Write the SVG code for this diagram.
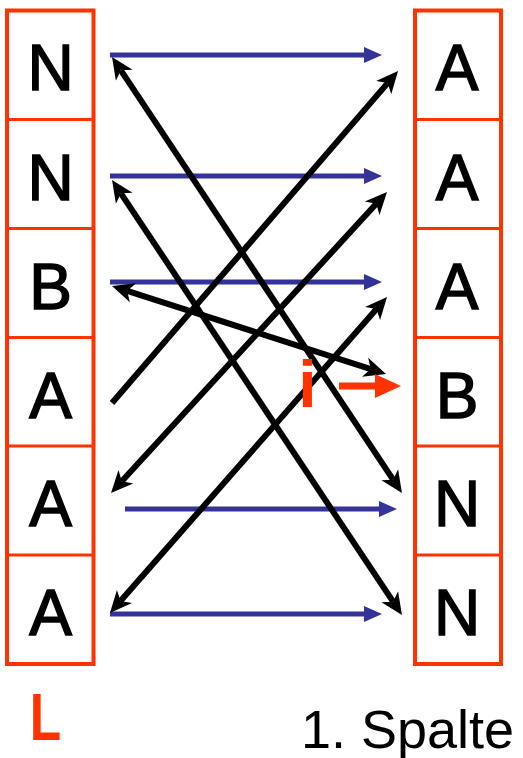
<svg xmlns="http://www.w3.org/2000/svg" width="523" height="758" viewBox="0 0 523 758">
<style>
.col{fill:#fff;stroke:#FF3300;stroke-width:4}
.div{stroke:#FF3300;stroke-width:2.8}
.cell{font-family:"Liberation Sans",Arial,sans-serif;font-size:64px;fill:#000;stroke:#000;stroke-width:1.5;text-anchor:middle}
.blue{stroke:#333399;stroke-width:5;fill:none;marker-end:url(#bh)}
.blk{stroke:#000;stroke-width:6;fill:none}
.two{marker-start:url(#kh);marker-end:url(#kh)}
.one{marker-end:url(#kh)}
.red{font-family:"Liberation Sans",Arial,sans-serif;font-weight:bold;fill:#FF3300;text-anchor:middle}
</style>
<defs>
<marker id="bh" markerUnits="userSpaceOnUse" markerWidth="20" markerHeight="20" viewBox="0 -10 20 20" refX="0" refY="0" orient="auto"><path d="M0,-8 L18,0 L0,8 z" fill="#333399"/></marker>
<marker id="kh" markerUnits="userSpaceOnUse" markerWidth="26" markerHeight="26" viewBox="0 -13 26 26" refX="6" refY="0" orient="auto-start-reverse"><path d="M0,-10 L22,0 L0,10 L6,0 z" fill="#000"/></marker>
</defs>
<g id="L-column">
<rect class="col" x="7" y="10.5" width="86.5" height="653.5"/>
<line class="div" x1="7" y1="119.5" x2="93.5" y2="119.5"/>
<line class="div" x1="7" y1="228.5" x2="93.5" y2="228.5"/>
<line class="div" x1="7" y1="337.5" x2="93.5" y2="337.5"/>
<line class="div" x1="7" y1="446" x2="93.5" y2="446"/>
<line class="div" x1="7" y1="555" x2="93.5" y2="555"/>
</g>
<g id="L1"><text class="cell" x="50.5" y="90">N</text></g>
<g id="L2"><text class="cell" x="50.5" y="199.5">N</text></g>
<g id="L3"><text class="cell" x="50.5" y="308.5">B</text></g>
<g id="L4"><text class="cell" x="50.5" y="417.5">A</text></g>
<g id="L5"><text class="cell" x="50.5" y="526">A</text></g>
<g id="L6"><text class="cell" x="50.5" y="635">A</text></g>
<g id="F-column">
<rect class="col" x="415" y="10.5" width="86" height="653.5"/>
<line class="div" x1="415" y1="119.5" x2="501" y2="119.5"/>
<line class="div" x1="415" y1="228.5" x2="501" y2="228.5"/>
<line class="div" x1="415" y1="337.5" x2="501" y2="337.5"/>
<line class="div" x1="415" y1="446" x2="501" y2="446"/>
<line class="div" x1="415" y1="555" x2="501" y2="555"/>
</g>
<g id="F1"><text class="cell" x="457" y="90">A</text></g>
<g id="F2"><text class="cell" x="457" y="199.5">A</text></g>
<g id="F3"><text class="cell" x="457" y="308.5">A</text></g>
<g id="F4"><text class="cell" x="457" y="417.5">B</text></g>
<g id="F5"><text class="cell" x="457" y="526">N</text></g>
<g id="F6"><text class="cell" x="457" y="635">N</text></g>
<g id="connectors">
<line class="blue" x1="110" y1="55" x2="364" y2="55"/>
<line class="blue" x1="110" y1="176" x2="364" y2="176"/>
<line class="blue" x1="110" y1="282" x2="364" y2="282"/>
<line class="blue" x1="125" y1="509" x2="379" y2="509"/>
<line class="blue" x1="110" y1="614" x2="364" y2="614"/>
<line class="blk two" x1="120.9" y1="70.3" x2="393.1" y2="479.7"/>
<line class="blk two" x1="120.9" y1="193.3" x2="393.1" y2="601.7"/>
<line class="blk one" x1="112" y1="403" x2="387.6" y2="83.1"/>
<line class="blk two" x1="121.8" y1="481.2" x2="376.2" y2="203.8"/>
<line class="blk two" x1="120.5" y1="601" x2="376.5" y2="309"/>
<line class="blk two" x1="127.2" y1="290.9" x2="370.8" y2="369.1"/>
</g>
<g id="pointer-i">
<text class="red" x="307.5" y="407" font-size="66">i</text>
<path d="M339,382.5 H375 V374 L401,386 L375,398 V389.5 H339 z" fill="#FF3300"/>
</g>
<g id="label-L"><text class="red" transform="translate(45.5,740) scale(0.78,1)" x="0" y="0" font-size="66">L</text></g>
<g id="label-spalte"><text x="301" y="748" font-family="Liberation Sans,Arial,sans-serif" font-size="54" fill="#000">1. Spalte</text></g>
</svg>
